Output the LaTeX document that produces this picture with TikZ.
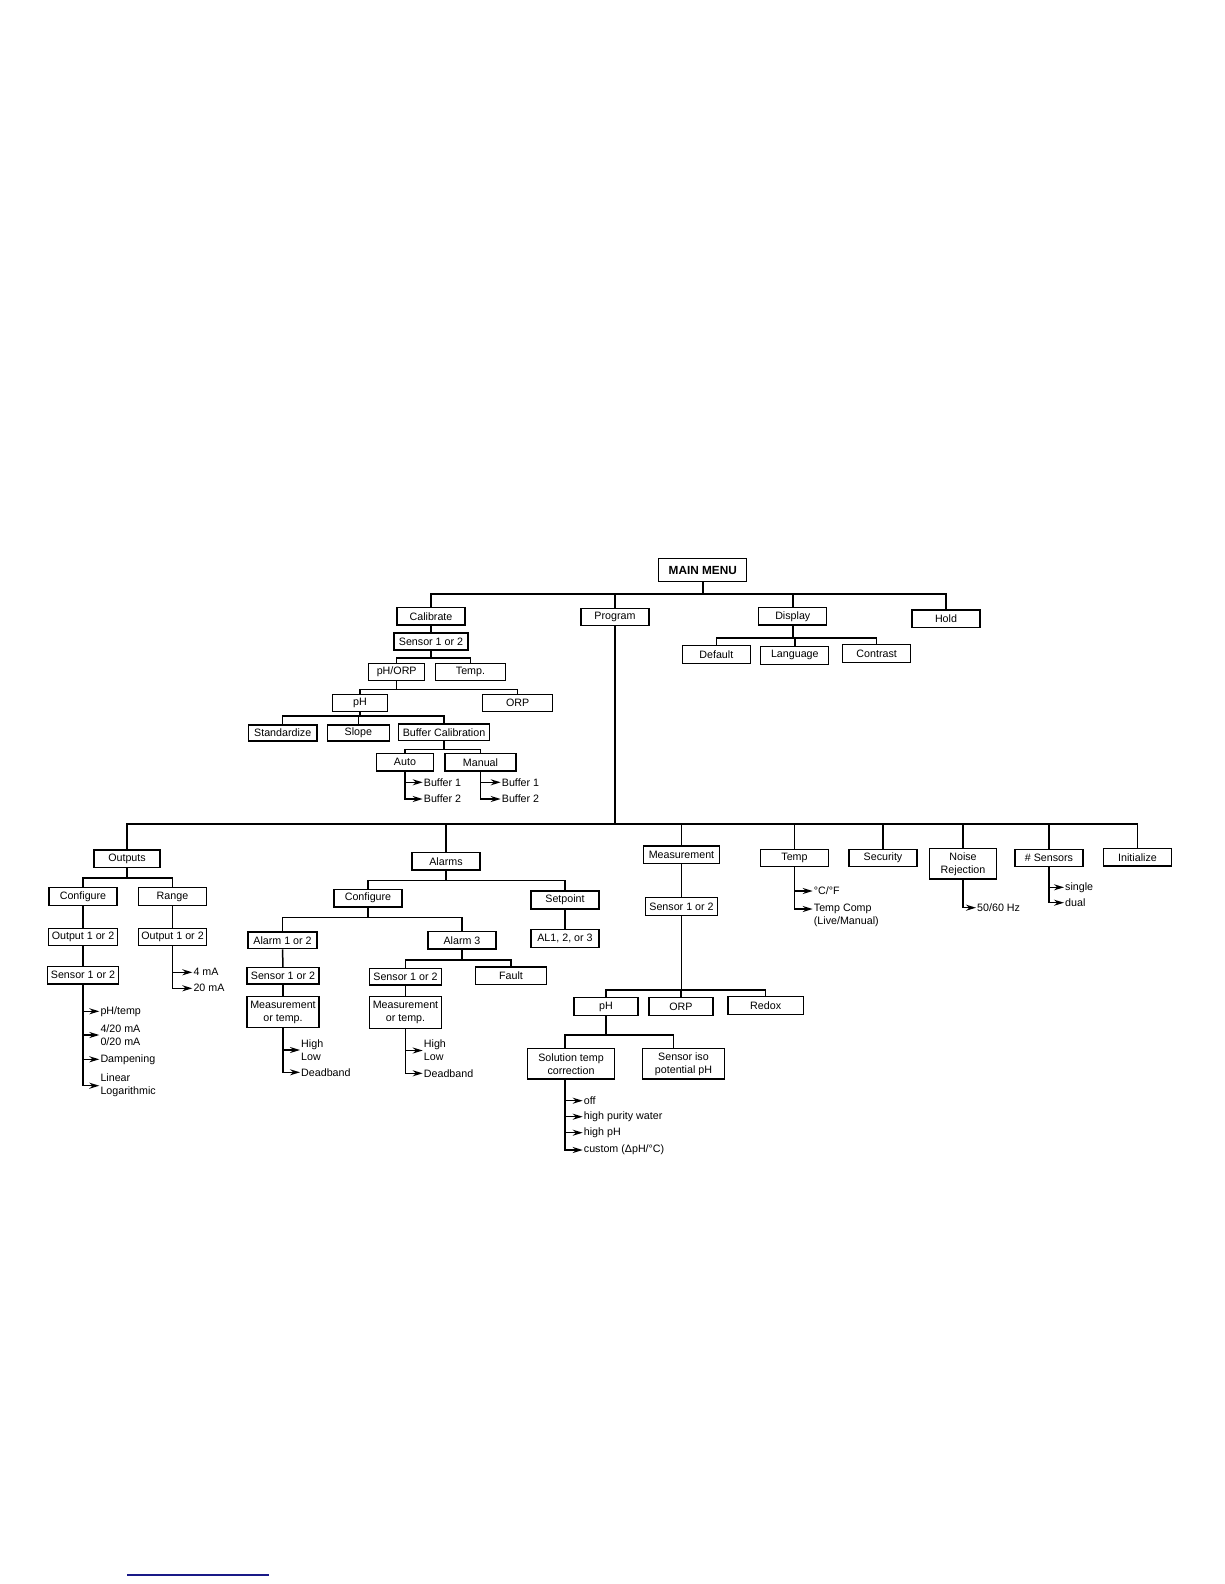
\documentclass[tikz,border=0pt]{standalone}
\usepackage{fontspec}
\setmainfont{Liberation Sans}
\usetikzlibrary{arrows.meta}
\definecolor{linkblue}{RGB}{25,25,135}

\begin{document}
\begin{tikzpicture}[x=1pt, y=-1pt,
    menu/.style={draw, line width=1.2pt, minimum width=68pt, minimum height=17.5pt,
      inner sep=2pt, align=center, font=\fontsize{10.7}{13}\selectfont},
    tall/.style={menu, minimum height=30.5pt},
    item/.style={anchor=west, inner sep=1pt, align=left, font=\fontsize{10.7}{13}\selectfont},
    link/.style={line width=1.5pt},
    arr/.style={line width=1.5pt, -{Stealth[length=10pt, width=6pt]}}]
    \useasboundingbox (0,0) rectangle (1224,1584);

    % Main menu row
    \node[menu, font=\fontsize{11.8}{14}\selectfont\bfseries, minimum width=88pt, minimum height=23.4pt] (main) at (702.8,570) {MAIN MENU};
    \node[menu] (cal) at (431,616.3) {Calibrate};
    \node[menu] (prg) at (615,617) {Program};
    \node[menu] (dsp) at (792.8,616.3) {Display};
    \node[menu] (hold) at (946,618.8) {Hold};
    \draw[link] (main.south) -- ++(0,11.6) -| (cal.north);
    \draw[link] (main.south) -- ++(0,11.6) -| (prg.north);
    \draw[link] (main.south) -- ++(0,11.6) -| (dsp.north);
    \draw[link] (main.south) -- ++(0,11.6) -| (hold.north);

    % Calibrate
    \node[menu, minimum width=74pt, minimum height=17pt] (calSens) at (431,641.5) {Sensor 1 or 2};
    \node[menu, minimum width=56pt] (calPhOrp) at (396.7,672) {pH/ORP};
    \node[menu, minimum width=70pt] (calTemp) at (470.5,672) {Temp.};
    \node[menu, minimum width=55pt] (calPh) at (360,703) {pH};
    \node[menu, minimum width=70pt] (calOrp) at (517.7,703) {ORP};
    \node[menu, minimum width=68.7pt, minimum height=16pt] (calStd) at (282.7,733) {Standardize};
    \node[menu, minimum width=62pt, minimum height=16pt] (calSlope) at (358.3,733) {Slope};
    \node[menu, minimum width=91.7pt, minimum height=16.7pt] (calBuf) at (444,732.3) {Buffer Calibration};
    \node[menu, minimum width=56.3pt] (calAuto) at (405,762.3) {Auto};
    \node[menu, minimum width=71pt] (calMan) at (480.5,762.3) {Manual};
    \node[item] (autoB1) at (422.7,782.3) {Buffer 1};
    \node[item] (autoB2) at (422.7,799) {Buffer 2};
    \node[item] (manB1) at (500.7,782.3) {Buffer 1};
    \node[item] (manB2) at (500.7,799) {Buffer 2};
    \draw[link] (cal) -- (calSens);
    \draw[link] (calSens.south) -- ++(0,7.3) -| (calPhOrp.north);
    \draw[link] (calSens.south) -- ++(0,7.3) -| (calTemp.north);
    \draw[link] (calPhOrp.south) -- ++(0,8) -| (calPh.north);
    \draw[link] (calPhOrp.south) -- ++(0,8) -| (calOrp.north);
    \draw[link] (calPh.south) -- ++(0,3.8) -| (calStd.north);
    \draw[link] (calPh.south) -- ++(0,3.8) -| (calSlope.north);
    \draw[link] (calPh.south) -- ++(0,3.8) -| (calBuf.north);
    \draw[link] (calBuf.south) -- ++(0,8.3) -| (calAuto.north);
    \draw[link] (calBuf.south) -- ++(0,8.3) -| (calMan.north);
    \draw[arr] (calAuto.south) |- (autoB1.west);
    \draw[arr] (calAuto.south) |- (autoB2.west);
    \draw[arr] (calMan.south) |- (manB1.west);
    \draw[arr] (calMan.south) |- (manB2.west);

    % Display
    \node[menu, minimum height=18pt] (dspDef) at (716.3,654.3) {Default};
    \node[menu, minimum height=18pt] (dspLang) at (794.8,655.3) {Language};
    \node[menu, minimum height=18pt] (dspCon) at (876.7,653.5) {Contrast};
    \draw[link] (dsp.south) -- ++(0,12.3) -| (dspDef.north);
    \draw[link] (dsp.south) -- ++(0,12.3) -| (dspLang.north);
    \draw[link] (dsp.south) -- ++(0,12.3) -| (dspCon.north);

    % Program row
    \node[menu, minimum width=66pt] (outs) at (127,858.8) {Outputs};
    \node[menu] (alms) at (446,861.3) {Alarms};
    \node[menu, minimum width=75.3pt] (meas) at (681.5,854.8) {Measurement};
    \node[menu] (temp) at (794.5,858) {Temp};
    \node[menu] (sec) at (883,858) {Security};
    \node[tall, minimum width=67.3pt] (noise) at (963,863.8) {Noise\\Rejection};
    \node[menu] (nsens) at (1049,858) {\# Sensors};
    \node[menu] (init) at (1137.5,857.3) {Initialize};
    \draw[link] (prg.south) -- ++(0,197.6) -| (outs.north);
    \draw[link] (prg.south) -- ++(0,197.6) -| (alms.north);
    \draw[link] (prg.south) -- ++(0,197.6) -| (meas.north);
    \draw[link] (prg.south) -- ++(0,197.6) -| (temp.north);
    \draw[link] (prg.south) -- ++(0,197.6) -| (sec.north);
    \draw[link] (prg.south) -- ++(0,197.6) -| (noise.north);
    \draw[link] (prg.south) -- ++(0,197.6) -| (nsens.north);
    \draw[link] (prg.south) -- ++(0,197.6) -| (init.north);

    % Outputs
    \node[menu] (outCfg) at (83,896.5) {Configure};
    \node[menu] (outRng) at (172.5,896.5) {Range};
    \node[menu, minimum width=69.4pt] (outOutA) at (83,937) {Output 1 or 2};
    \node[menu] (outOutB) at (172.5,937) {Output 1 or 2};
    \node[menu, minimum width=71pt] (outSens) at (83,975.3) {Sensor 1 or 2};
    \node[item] (oPh) at (99.3,1011.3) {pH/temp};
    \node[item] (oMa) at (99.3,1035) {4/20 mA\\0/20 mA};
    \node[item] (oDamp) at (99.3,1059.3) {Dampening};
    \node[item] (oLin) at (99.3,1085.7) {Linear\\Logarithmic};
    \node[item] (o4) at (192.3,972.3) {4 mA};
    \node[item] (o20) at (192.3,988.3) {20 mA};
    \draw[link] (outs.south) -- ++(0,10) -| (outCfg.north);
    \draw[link] (outs.south) -- ++(0,10) -| (outRng.north);
    \draw[link] (outCfg) -- (outOutA);
    \draw[link] (outOutA) -- (outSens);
    \draw[arr] (outSens.south) |- (oPh.west);
    \draw[arr] (outSens.south) |- (oMa.west);
    \draw[arr] (outSens.south) |- (oDamp.west);
    \draw[arr] (outSens.south) |- (oLin.west);
    \draw[link] (outRng) -- (outOutB);
    \draw[arr] (outOutB.south) |- (o4.west);
    \draw[arr] (outOutB.south) |- (o20.west);

    % Alarms
    \node[menu] (almCfg) at (368,898.2) {Configure};
    \node[menu, minimum height=18pt] (almSet) at (565,900) {Setpoint};
    \node[menu, minimum height=18pt] (almAl) at (565,938.3) {AL1, 2, or 3};
    \node[menu, minimum width=69pt, minimum height=16.7pt] (alm12) at (282.5,940.3) {Alarm 1 or 2};
    \node[menu] (alm3) at (462,940.2) {Alarm 3};
    \node[menu, minimum width=72pt, minimum height=16.7pt] (alm12Sens) at (283,975.7) {Sensor 1 or 2};
    \node[tall, minimum width=72pt, minimum height=31pt] (alm12Meas) at (283,1012.2) {Measurement\\or temp.};
    \node[item] (alm12Hi) at (300,1050) {High\\Low};
    \node[item] (alm12Db) at (300,1072.3) {Deadband};
    \node[menu, minimum width=72.3pt, minimum height=16.7pt] (alm3Sens) at (405.5,976.7) {Sensor 1 or 2};
    \node[menu, minimum width=71.4pt] (alm3Fault) at (511,975.7) {Fault};
    \node[tall, minimum width=72.3pt, minimum height=31.6pt] (alm3Meas) at (405.5,1012.5) {Measurement\\or temp.};
    \node[item] (alm3Hi) at (422.7,1050.5) {High\\Low};
    \node[item] (alm3Db) at (422.7,1073.3) {Deadband};
    \draw[link] (alms.south) -- ++(0,10) -| (almCfg.north);
    \draw[link] (alms.south) -- ++(0,10) -| (almSet.north);
    \draw[link] (almSet) -- (almAl);
    \draw[link] (almCfg.south) -- ++(0,9.7) -| (alm12.north);
    \draw[link] (almCfg.south) -- ++(0,9.7) -| (alm3.north);
    \draw[link] (alm12) -- (alm12Sens);
    \draw[link] (alm12Sens) -- (alm12Meas);
    \draw[arr] (alm12Meas.south) |- (alm12Hi.west);
    \draw[arr] (alm12Meas.south) |- (alm12Db.west);
    \draw[link] (alm3.south) -- ++(0,10.3) -| (alm3Sens.north);
    \draw[link] (alm3.south) -- ++(0,10.3) -| (alm3Fault.north);
    \draw[link] (alm3Sens) -- (alm3Meas);
    \draw[arr] (alm3Meas.south) |- (alm3Hi.west);
    \draw[arr] (alm3Meas.south) |- (alm3Db.west);

    % Measurement
    \node[menu, minimum width=71.7pt, minimum height=18pt] (measSens) at (681.5,906.7) {Sensor 1 or 2};
    \node[menu, minimum width=64pt] (measPh) at (606,1006.5) {pH};
    \node[menu, minimum width=64pt] (measOrp) at (681,1006.5) {ORP};
    \node[menu, minimum width=75.3pt, minimum height=18pt] (measRedox) at (765.7,1005.7) {Redox};
    \node[tall, minimum width=86.6pt] (measSol) at (571,1063.8) {Solution temp\\correction};
    \node[tall, minimum width=81.6pt] (measIso) at (683.5,1063.8) {Sensor iso\\potential pH};
    \node[item] (mOff) at (582.7,1100.7) {off};
    \node[item] (mPure) at (582.7,1116.7) {high purity water};
    \node[item] (mHigh) at (582.7,1132.7) {high pH};
    \node[item] (mCust) at (582.7,1150) {custom (ΔpH/°C)};
    \draw[link] (meas) -- (measSens);
    \draw[link] (measSens.south) -- ++(0,73.6) -| (measPh.north);
    \draw[link] (measSens.south) -- ++(0,73.6) -| (measOrp.north);
    \draw[link] (measSens.south) -- ++(0,73.6) -| (measRedox.north);
    \draw[link] (measPh.south) -- ++(0,19) -| ([xshift=-6pt]measSol.north);
    \draw[link] (measPh.south) -- ++(0,19) -| ([xshift=-10.2pt]measIso.north);
    \draw[arr] ([xshift=-6pt]measSol.south) |- (mOff.west);
    \draw[arr] ([xshift=-6pt]measSol.south) |- (mPure.west);
    \draw[arr] ([xshift=-6pt]measSol.south) |- (mHigh.west);
    \draw[arr] ([xshift=-6pt]measSol.south) |- (mCust.west);

    % Temp, Noise Rejection, # Sensors
    \node[item] (tUnit) at (812.7,891) {°C/°F};
    \node[item] (tComp) at (812.7,909) {Temp Comp};
    \node[item, anchor=north west] (tLive) at (tComp.south west) {(Live/Manual)};
    \draw[arr] (temp.south) |- (tUnit.west);
    \draw[arr] (temp.south) |- (tComp.west);
    \node[item] (nHz) at (976,907.7) {50/60 Hz};
    \draw[arr] (noise.south) |- (nHz.west);
    \node[item] (sSingle) at (1064,887.3) {single};
    \node[item] (sDual) at (1064,902.7) {dual};
    \draw[arr] (nsens.south) |- (sSingle.west);
    \draw[arr] (nsens.south) |- (sDual.west);

    % Stray rule at page foot
    \draw[line width=1.2pt, linkblue] (127,1575) -- (269,1575);
\end{tikzpicture}
\end{document}
